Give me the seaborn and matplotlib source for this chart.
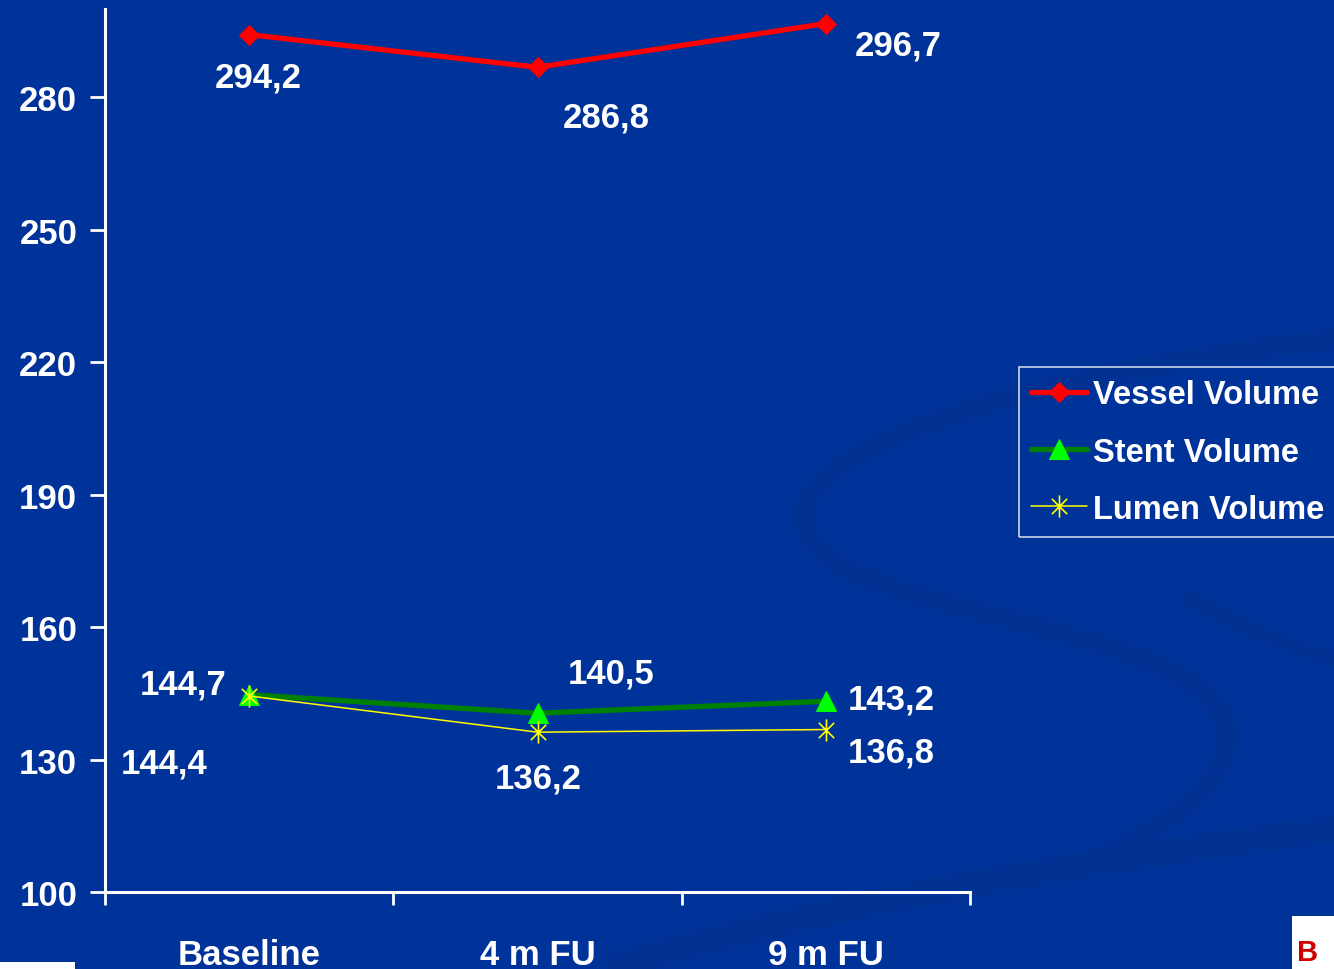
import matplotlib
matplotlib.use("Agg")
import matplotlib.pyplot as plt
from matplotlib.path import Path
from matplotlib.patches import PathPatch, Rectangle
import seaborn as sns
import pandas as pd

# Volumes over follow-up
periods = ["Baseline", "4 m FU", "9 m FU"]
vessel = [294.2, 286.8, 296.7]
stent = [144.7, 140.5, 143.2]
lumen = [144.4, 136.2, 136.8]
series_names = ["Vessel Volume", "Stent Volume", "Lumen Volume"]
y_ticks = [100, 130, 160, 190, 220, 250, 280]

BG = "#003399"
W, H = 1334, 970

sns.set_theme(style="white")
plt.rcParams["font.family"] = ["Liberation Sans", "DejaVu Sans"]
plt.rcParams["font.weight"] = "bold"

fig = plt.figure(figsize=(W / 100, H / 100), dpi=100, facecolor=BG)

# faint background swoosh, kept behind everything else
def swoosh(verts, lw, color="#00308f", alpha=0.6):
    codes = [Path.MOVETO] + [Path.CURVE4] * (len(verts) - 1)
    p = Path([(x / W, 1 - y / H) for x, y in verts], codes)
    fig.patches.append(PathPatch(p, transform=fig.transFigure, fill=False,
                                 lw=lw, ec=color, alpha=alpha, zorder=-5,
                                 capstyle="round"))

swoosh([(1334, 340), (1000, 380), (760, 460), (810, 540),
        (860, 610), (1100, 620), (1200, 690),
        (1260, 740), (1220, 800), (1100, 860)], 16)
swoosh([(1334, 830), (1100, 860), (850, 900), (620, 965)], 20)
swoosh([(1190, 600), (1260, 640), (1334, 660), (1334, 660)], 12)

ax = fig.add_axes([105 / W, 1 - 893 / H, (970 - 105) / W, (893 - 10) / H])
ax.set_facecolor("none")
ax.set_zorder(2)

df = pd.DataFrame({"period": periods * 3,
                   "volume": vessel + stent + lumen,
                   "series": [s for s in series_names for _ in periods]})

star = Path([(-1, -1), (1, 1), (-1, 1), (1, -1), (0, -1.45), (0, 1.45)],
            [Path.MOVETO, Path.LINETO] * 3)

styles = {
    "Vessel Volume": dict(color="#ff0000", lw=3.8, marker="D", ms=10.5,
                          mfc="#ff0000", mec="#ff0000", zorder=5),
    "Stent Volume": dict(color="#008000", lw=3.8, marker="^", ms=14,
                         mfc="#00ff00", mec="#00ff00", zorder=3),
    "Lumen Volume": dict(color="#ffff00", lw=1.1, marker=star, ms=16,
                         mfc="#ffff00", mec="#ffff00", mew=1.2, zorder=4),
}

for name in series_names:
    st = dict(styles[name])
    z = st.pop("zorder")
    sns.lineplot(data=df[df["series"] == name], x="period", y="volume",
                 ax=ax, label=name, zorder=z, **st)

ax.set_xlim(-0.5, 2.5)
ax.set_ylim(100, 300)
ax.set_xlabel("")
ax.set_ylabel("")

# tick marks at category boundaries, labels at centres
ax.set_xticks([-0.5, 0.5, 1.5, 2.5])
ax.set_xticklabels([])
ax.set_xticks([0, 1, 2], minor=True)
ax.set_xticklabels(periods, minor=True)
ax.tick_params(axis="x", which="major", direction="out", length=9, width=2,
               color="white", bottom=True)
ax.tick_params(axis="x", which="minor", length=0, pad=33, labelsize=25,
               labelcolor="white")
ax.set_yticks(y_ticks)
ax.tick_params(axis="y", direction="out", length=11, width=2, color="white",
               pad=9, labelsize=25, labelcolor="white", left=True)

for side in ["top", "right"]:
    ax.spines[side].set_visible(False)
for side in ["left", "bottom"]:
    ax.spines[side].set_color("white")
    ax.spines[side].set_linewidth(2.2)

# value labels
label_offsets = {
    "Vessel Volume": [(9, -42), (69, -50), (72, -21)],
    "Stent Volume": [(-66, 11), (74, 40), (65, 2)],
    "Lumen Volume": [(-85, -67), (1, -46), (65, -22)],
}
for name, vals in zip(series_names, [vessel, stent, lumen]):
    for i, v in enumerate(vals):
        ax.annotate(f"{v:.1f}".replace(".", ","), (i, v),
                    xytext=label_offsets[name][i], textcoords="offset pixels",
                    ha="center", va="center", color="white", fontsize=25,
                    fontweight="bold", zorder=6)

leg = ax.legend(loc="upper left", bbox_to_anchor=(1019 / W, 1 - 368 / H),
                bbox_transform=fig.transFigure, frameon=True, fancybox=False,
                fontsize=23.5, handlelength=1.7, handletextpad=0.2,
                labelspacing=0.8, borderpad=0.38, borderaxespad=0)
leg.get_frame().set_facecolor("none")
leg.get_frame().set_edgecolor("white")
leg.get_frame().set_linewidth(1.2)
for t in leg.get_texts():
    t.set_color("white")

# slide corner elements
fig.patches.append(Rectangle((0, 0), 75 / W, 7 / H, transform=fig.transFigure,
                             fc="white", ec="none", zorder=1))
fig.patches.append(Rectangle((1292 / W, 0), 42 / W, 53 / H,
                             transform=fig.transFigure, fc="white", ec="none",
                             zorder=1))
fig.text(1297 / W, 3 / H, "B", color="#cc0000", fontsize=21,
         fontweight="bold", ha="left", va="bottom", zorder=3)

fig.savefig("out.png", dpi=100, facecolor=BG)
